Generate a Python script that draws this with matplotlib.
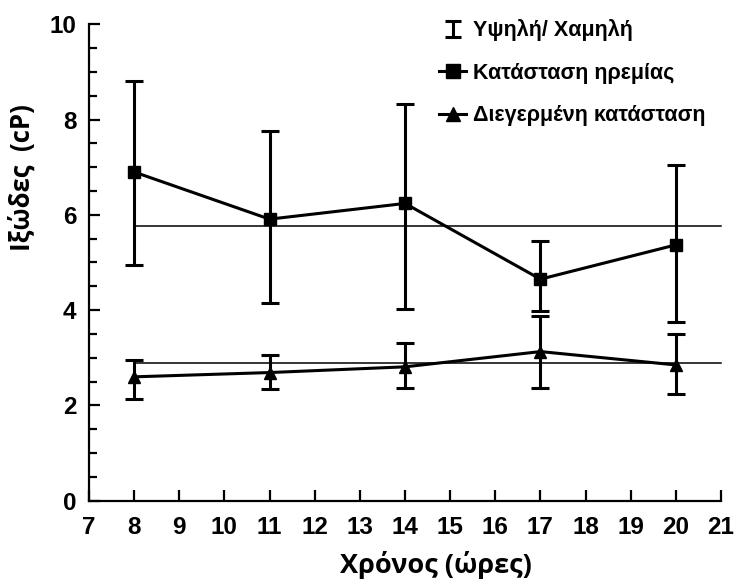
import matplotlib
matplotlib.use("Agg")
import matplotlib.pyplot as plt
from matplotlib.lines import Line2D
from matplotlib.path import Path
from matplotlib.ticker import MultipleLocator

# ---- data ----
times = [8, 11, 14, 17, 20]
rest_mean = [6.90, 5.91, 6.24, 4.65, 5.37]
rest_high = [8.82, 7.75, 8.32, 5.46, 7.05]
rest_low = [4.95, 4.14, 4.02, 3.99, 3.75]
exc_mean = [2.60, 2.69, 2.81, 3.13, 2.85]
exc_high = [2.95, 3.05, 3.30, 3.88, 3.49]
exc_low = [2.13, 2.35, 2.36, 2.36, 2.24]
ref_x = [8, 21]
rest_ref = [5.77, 5.77]
exc_ref = [2.88, 2.88]
xticks = list(range(7, 22))
yticks = [0, 2, 4, 6, 8, 10]
legend_labels = ["Υψηλή/ Χαμηλή", "Κατάσταση ηρεμίας", "Διεγερμένη κατάσταση"]

fig = plt.figure(figsize=(7.35, 5.8), dpi=100)
ax = fig.add_axes([89/735, 1-500.7/580, (721-89)/735, (500.7-24.3)/580])

lw = 2.2
# reference lines
ax.plot(ref_x, rest_ref, color="black", lw=1.1, clip_on=False)
ax.plot(ref_x, exc_ref, color="black", lw=1.1, clip_on=False)

def err(mean, hi, lo):
    return [[m - l for m, l in zip(mean, lo)], [h - m for h, m in zip(hi, mean)]]

ax.errorbar(times, rest_mean, yerr=err(rest_mean, rest_high, rest_low), fmt="none",
            ecolor="black", elinewidth=lw, capsize=6.5, capthick=lw)
ax.errorbar(times, exc_mean, yerr=err(exc_mean, exc_high, exc_low), fmt="none",
            ecolor="black", elinewidth=lw, capsize=6.5, capthick=lw)
ax.plot(times, rest_mean, color="black", lw=lw, marker="s", markersize=9)
ax.plot(times, exc_mean, color="black", lw=lw, marker="^", markersize=9)

ax.set_xlim(7, 21)
ax.set_ylim(0, 10)
for s in ["top", "right"]:
    ax.spines[s].set_visible(False)
for s in ["left", "bottom"]:
    ax.spines[s].set_linewidth(1.6)

tick_font = {"family": "Liberation Sans", "weight": "bold", "size": 17.5}
ax.set_xticks(xticks)
ax.set_xticklabels([str(t) for t in xticks], fontdict=tick_font)
ax.set_yticks(yticks)
ax.set_yticklabels([str(t) for t in yticks], fontdict=tick_font)
ax.yaxis.set_minor_locator(MultipleLocator(0.5))
ax.tick_params(axis="both", which="major", direction="in", length=8, width=1.6)
ax.tick_params(axis="y", which="minor", direction="in", length=6, width=1.6)
ax.tick_params(axis="x", pad=11)
ax.tick_params(axis="y", pad=9)

# axis labels
fig.text(22/735, 1-178/580, "Ιξώδες  (cP)", rotation=90, ha="center", va="center",
         fontsize=18.5, fontfamily="Open Sans", fontweight="bold")
fig.text(436/735, 1-565/580, "Χρόνος (ώρες)", ha="center", va="center",
         fontsize=19.5, fontfamily="Open Sans", fontweight="bold")

# legend
ibeam = Path([(-1, 1), (1, 1), (0, 1), (0, -1), (-1, -1), (1, -1)],
             [Path.MOVETO, Path.LINETO, Path.MOVETO, Path.LINETO, Path.MOVETO, Path.LINETO])
h1 = Line2D([], [], color="black", lw=0, marker=ibeam, markersize=11,
            markeredgewidth=2.2, markerfacecolor="none")
h2 = Line2D([], [], color="black", lw=lw, marker="s", markersize=10)
h3 = Line2D([], [], color="black", lw=lw, marker="^", markersize=10)
leg = ax.legend([h1, h2, h3], legend_labels, loc="upper left",
                bbox_to_anchor=(420/735, 1-0/580), bbox_transform=fig.transFigure,
                frameon=False, handlelength=1.25, handletextpad=0.3,
                labelspacing=1.0, prop={"family": "Liberation Sans", "weight": "bold", "size": 15.5})

fig.savefig("out.png", dpi=100)
